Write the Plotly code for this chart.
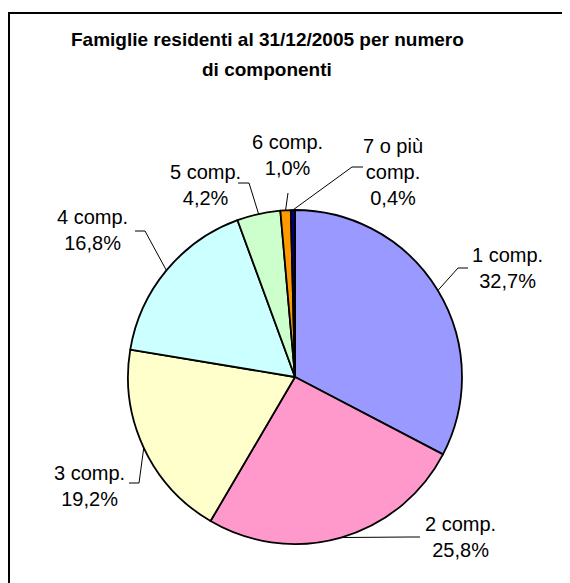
import math
import plotly.graph_objects as go

# ---- data ----
categories = ["1 comp.", "2 comp.", "3 comp.", "4 comp.", "5 comp.", "6 comp.", "7 o più comp."]
label_names = ["1 comp.", "2 comp.", "3 comp.", "4 comp.", "5 comp.", "6 comp.", "7 o più<br>comp."]
percentages = [32.7, 25.8, 19.2, 16.8, 4.2, 1.0, 0.4]
colors = ["#9999FF", "#FF99CC", "#FFFFCC", "#CCFFFF", "#CCFFCC", "#FF9900", "#000080"]
title_lines = ["Famiglie residenti al 31/12/2005 per numero", "di componenti"]

# ---- layout (screen pixels; page body has an 8px margin) ----
OFF = 8
W, H = 570 - OFF, 583 - OFF
CX, CY, R = 295, 377, 167
FONT = "Liberation Sans, Arial, sans-serif"
label_pos = [(507, 268), (460, 537), (89, 486), (92, 230), (205, 185), (287, 155), (393, 172)]
leader_elbow = [(458, 268), (410, 537), (139, 483), (145, 231), (249, 183), (288, 193), (352, 167)]
leader_end = [(468, 268), (420, 537), (129, 483), (135, 231), (238, 183), (288, 193), (363, 167)]


def px(x):
    return (x - OFF) / W


def py(y):
    return 1 - (y - OFF) / H


fig = go.Figure(
    go.Pie(
        labels=categories,
        values=percentages,
        sort=False,
        direction="clockwise",
        rotation=0,
        marker=dict(colors=colors, line=dict(color="black", width=1.8)),
        textinfo="none",
        hoverinfo="label+percent",
        domain=dict(x=[px(CX - R), px(CX + R)], y=[py(CY + R), py(CY - R)]),
        showlegend=False,
    )
)

shapes = [
    dict(type="rect", xref="paper", yref="paper", x0=px(9), y0=py(13), x1=px(620), y1=py(640),
         line=dict(color="black", width=2), fillcolor="rgba(0,0,0,0)", layer="below")
]
annotations = []
total = sum(percentages)
cum = 0.0
for i, v in enumerate(percentages):
    mid = (cum + v / 2) / total * 2 * math.pi
    cum += v
    ex = CX + R * math.sin(mid)
    ey = CY - R * math.cos(mid)
    bx, by = leader_elbow[i]
    tx, ty = leader_end[i]
    shapes.append(dict(type="path", xref="paper", yref="paper",
                       path=f"M {px(ex)} {py(ey)} L {px(bx)} {py(by)} L {px(tx)} {py(ty)}",
                       line=dict(color="black", width=1)))
    lx, ly = label_pos[i]
    pct = f"{v:.1f}".replace(".", ",") + "%"
    annotations.append(dict(x=px(lx), y=py(ly), xref="paper", yref="paper", xanchor="center", yanchor="middle",
                            text=f"{label_names[i]}<br>{pct}", showarrow=False, align="center",
                            font=dict(family=FONT, size=20, color="black")))

annotations.append(dict(x=px(267), y=py(40), xref="paper", yref="paper", xanchor="center", yanchor="middle",
                        text=f"<b>{title_lines[0]}</b>", showarrow=False,
                        font=dict(family=FONT, size=19, color="black")))
annotations.append(dict(x=px(267), y=py(69), xref="paper", yref="paper", xanchor="center", yanchor="middle",
                        text=f"<b>{title_lines[1]}</b>", showarrow=False,
                        font=dict(family=FONT, size=19, color="black")))

fig.update_layout(
    width=W, height=H,
    margin=dict(l=0, r=0, t=0, b=0),
    paper_bgcolor="white", plot_bgcolor="white",
    shapes=shapes, annotations=annotations,
    font=dict(family=FONT),
)

fig.write_html("out.html")
